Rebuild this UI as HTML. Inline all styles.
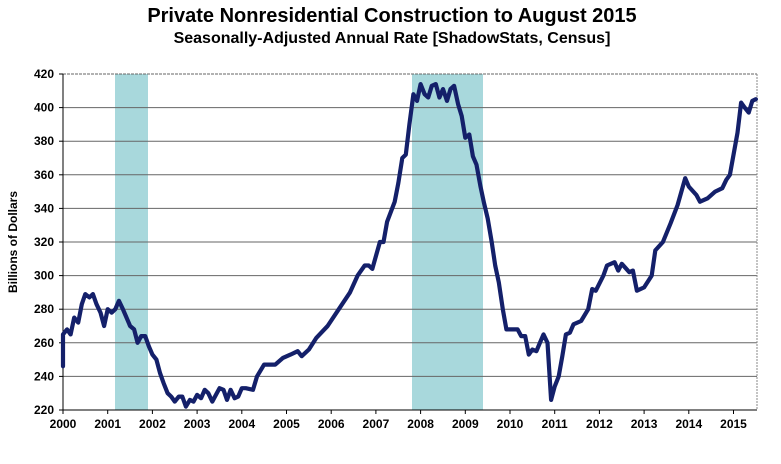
<!DOCTYPE html>
<html><head><meta charset="utf-8"><style>
body{margin:0;background:#fff;width:781px;height:459px;overflow:hidden}
svg text{font-family:"Liberation Sans",Arial,sans-serif;font-weight:bold;fill:#000}
</style></head><body>
<svg id="s" width="781" height="459" xmlns="http://www.w3.org/2000/svg">
<text x="392" y="22" font-size="20" text-anchor="middle">Private Nonresidential Construction to August 2015</text>
<text x="392" y="43" font-size="16" text-anchor="middle">Seasonally-Adjusted Annual Rate [ShadowStats, Census]</text>
<text transform="translate(17,242) rotate(-90)" font-size="12" text-anchor="middle">Billions  of Dollars</text>
<g id="g"></g>
</svg>
<script>
var NS="http://www.w3.org/2000/svg",g=document.getElementById('g');
function X(t){return 63+44.7*(t-2000)}
function Y(v){return 410-(v-220)*1.68}
function el(n,a){var e=document.createElementNS(NS,n);for(var k in a)e.setAttribute(k,a[k]);g.appendChild(e);return e}
el('rect',{x:115,y:74,width:33,height:336,fill:'#a8d8dc'});
el('rect',{x:412,y:74,width:71,height:336,fill:'#a8d8dc'});
for(var v=220;v<=420;v+=20){var y=Y(v);
 if(v>220)el('line',{x1:63,x2:757,y1:y,y2:y,stroke:'#666','stroke-width':1,'stroke-dasharray':v==420?'3,1':'none'});
 el('line',{x1:59,x2:63,y1:y,y2:y,stroke:'#000'});
 var t=el('text',{x:54,y:y+4,'font-size':12,'text-anchor':'end'});t.textContent=v;}
el('line',{x1:757,x2:757,y1:74,y2:410,stroke:'#888','stroke-dasharray':'2,1'});
el('line',{x1:63,x2:63,y1:74,y2:410,stroke:'#000'});
el('line',{x1:63,x2:757,y1:410,y2:410,stroke:'#000'});
for(var yr=2000;yr<=2015;yr++){var x=X(yr);el('line',{x1:x,x2:x,y1:410,y2:414,stroke:'#000'});
 var t=el('text',{x:x,y:428,'font-size':12,'text-anchor':'middle'});t.textContent=yr;}
var d=[2000,246,2000.08,265,2000.17,268,2000.25,265,2000.33,275,2000.42,272,2000.5,283,2000.58,289,2000.67,287,2000.75,289,2000.83,283,2000.92,278,2001,270,2001.08,280,2001.17,278,2001.25,280,2001.33,285,2001.42,280,2001.5,275,2001.58,270,2001.67,268,2001.75,260,2001.83,264,2001.92,264,2002,258,2002.08,253,2002.17,250,2002.25,242,2002.33,236,2002.42,230,2002.5,228,2002.58,225,2002.67,228,2002.75,228,2002.83,222,2002.92,226,2003,225,2003.08,229,2003.17,227,2003.25,232,2003.33,230,2003.42,225,2003.5,229,2003.58,233,2003.67,232,2003.75,226,2003.83,232,2003.92,227,2004,228,2004.08,233,2004.17,233,2004.33,232,2004.42,240,2004.58,247,2004.83,247,2005,251,2005.17,253,2005.33,255,2005.42,252,2005.58,256,2005.75,263,2006,270,2006.25,280,2006.5,290,2006.67,300,2006.83,306,2006.92,306,2007,304,2007.17,320,2007.25,320,2007.33,332,2007.5,344,2007.58,355,2007.67,370,2007.75,372,2007.83,390,2007.92,408,2008,404,2008.08,414,2008.17,408,2008.25,406,2008.33,413,2008.42,414,2008.5,406,2008.58,411,2008.67,404,2008.75,411,2008.83,413,2008.92,402,2009,395,2009.08,382,2009.17,384,2009.25,371,2009.33,366,2009.42,353,2009.5,343,2009.58,334,2009.67,320,2009.75,306,2009.83,296,2009.92,280,2010,268,2010.25,268,2010.33,264,2010.42,264,2010.5,253,2010.58,256,2010.67,255,2010.75,260,2010.83,265,2010.92,260,2011,226,2011.08,234,2011.17,240,2011.25,252,2011.33,265,2011.42,266,2011.5,271,2011.67,273,2011.83,280,2011.92,292,2012,291,2012.17,300,2012.25,306,2012.42,308,2012.5,303,2012.58,307,2012.75,302,2012.83,303,2012.92,291,2013.08,293,2013.25,300,2013.33,315,2013.5,320,2013.67,331,2013.83,342,2014,358,2014.08,353,2014.25,348,2014.33,344,2014.5,346,2014.67,350,2014.83,352,2014.92,357,2015,360,2015.17,385,2015.25,403,2015.33,400,2015.42,397,2015.5,404,2015.58,405];
var p=[];for(var i=0;i<d.length;i+=2){var t=d[i]-(i>0?0.08:0);p.push(X(t).toFixed(1)+','+Y(d[i+1]).toFixed(1));}
el('polyline',{points:p.join(' '),fill:'none',stroke:'#14206a','stroke-width':4.2,'stroke-linejoin':'round','stroke-linecap':'round'});
</script>
</body></html>
